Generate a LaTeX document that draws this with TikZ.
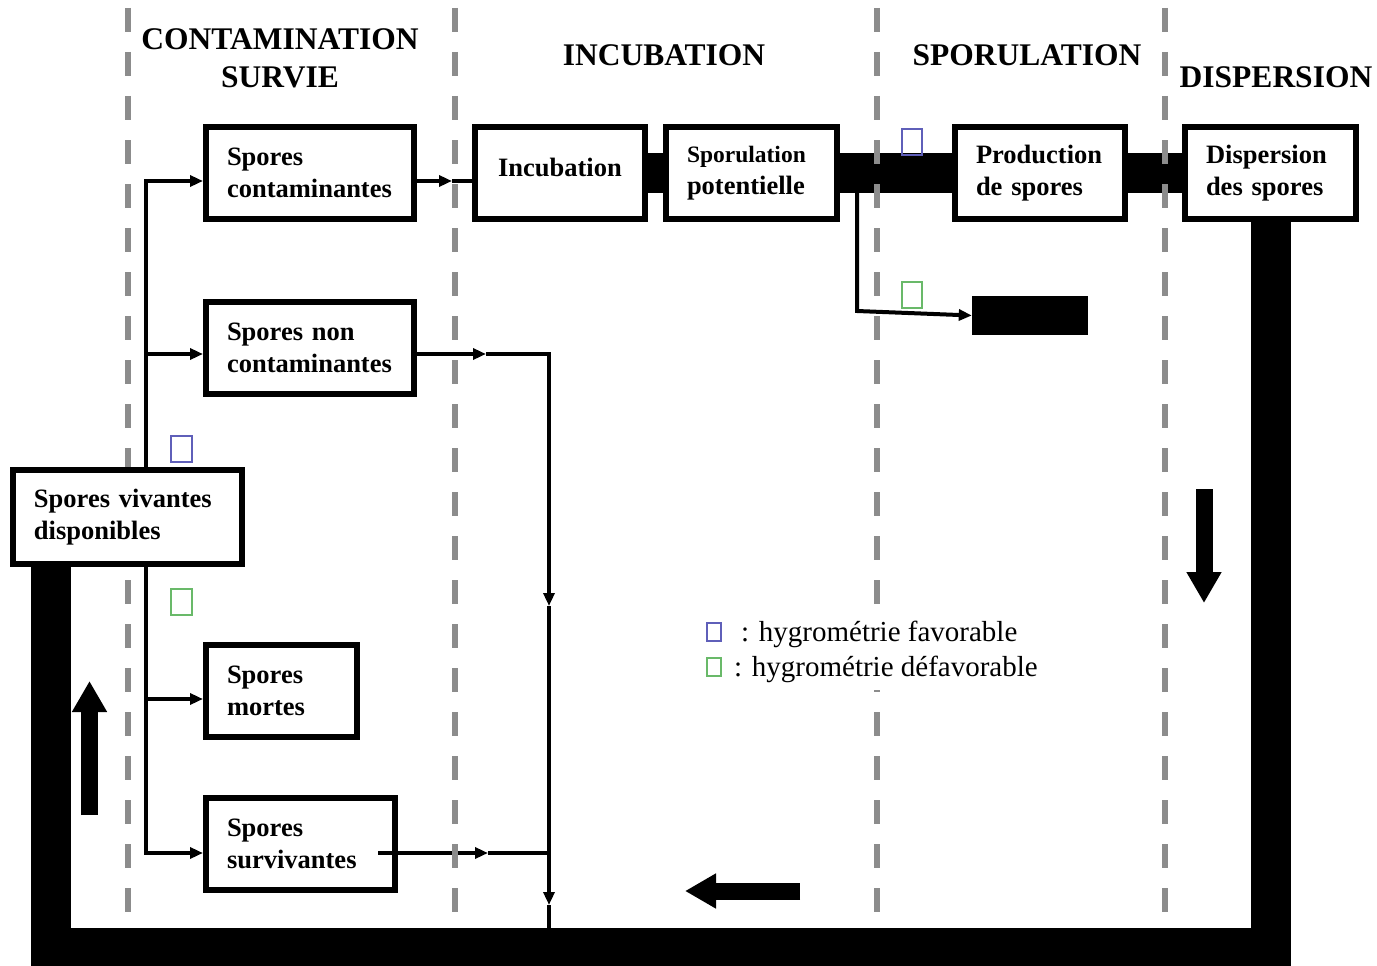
\documentclass[tikz,border=0pt]{standalone}
\usepackage{fontspec}
\setmainfont{Liberation Serif}
\usetikzlibrary{arrows.meta}

\definecolor{zonegray}{RGB}{140,140,140}
\definecolor{favblue}{RGB}{95,95,185}
\definecolor{defgreen}{RGB}{105,185,105}

\pgfdeclarelayer{links}
\pgfdeclarelayer{zones}
\pgfsetlayers{links,zones,main}

\tikzset{
  box/.style={draw, line width=6pt, font=\bfseries\fontsize{26.5}{32}\selectfont,
    align=left, inner xsep=21pt, inner ysep=0pt, minimum height=92pt},
  bar/.style={line width=40pt, line join=miter},
  link/.style={line width=4pt},
  tip/.style={-{Triangle[length=13pt,width=11pt]}},
  phase/.style={font=\bfseries\fontsize{31.5}{38}\selectfont, anchor=base},
  zone/.style={zonegray, line width=6pt, dash pattern=on 24pt off 20pt},
  bigarrow/.style={line width=17pt, -{Triangle[length=31pt,width=33pt]}},
  legend/.style={font=\fontsize{29}{35}\selectfont, anchor=base west, fill=white,
    inner xsep=0pt, inner ysep=8pt},
  favo/.style={draw=favblue, line width=1.5pt},
  defavo/.style={draw=defgreen, line width=1.5pt}
}

\begin{document}
\begin{tikzpicture}[x=1pt, y=-1pt]

        \useasboundingbox (0,0) rectangle (1377,966);

        % Phase headings
        \node[phase] (contam) at (280,50) {CONTAMINATION};
        \node[phase] (survie) at (280,88) {SURVIE};
        \node[phase] (incubh) at (664,66) {INCUBATION};
        \node[phase] (sporh) at (1027,66) {SPORULATION};
        \node[phase] (disph) at (1276,88) {DISPERSION};

        % Boxes
        \node[box, text width=166pt] (cont) at (310,173) {Spores\\contaminantes};
        \node[box, text width=166pt] (noncont) at (310,347.5) {Spores non\\contaminantes};
        \node[box, text width=187pt, minimum height=94pt, fill=white] (viv) at (127.5,517) {Spores vivantes\\disponibles};
        \node[box, text width=109pt] (mortes) at (281.5,690.5) {Spores\\mortes};
        \node[box, text width=147pt] (surv) at (300.5,843.5) {Spores\\survivantes};
        \node[box, text width=128pt, align=center, text depth=12pt] (incub) at (560,173) {Incubation};
        \node[box, text width=129pt] (sporpot) at (751.5,173)
            {{\fontsize{23.5}{32}\selectfont Sporulation}\\potentielle};
        \node[box, text width=128pt] (prod) at (1040,173) {Production\\de spores};
        \node[box, text width=129pt] (disp) at (1270.5,173) {Dispersion\\des spores};
        \node[fill=black, inner sep=0pt, minimum width=116pt, minimum height=39pt] (blk) at (1030,315.5) {};

        \begin{pgfonlayer}{links}
        % Thick links
        \draw[bar] (incub.east) -- (sporpot.west);
        \draw[bar] (sporpot.east) -- (prod.west);
        \draw[bar] (prod.east) -- (disp.west);

        % Return loop
        \coordinate (loopR) at (1270.5,948);
        \coordinate (loopL) at (51,948);
        \draw[bar] (disp.south) -- (loopR) -- (loopL) -- (loopL |- viv.south);

        % Left trunk
        \coordinate (b1) at (146,181);
        \coordinate (b2) at (146,354);
        \coordinate (b3) at (146,699);
        \coordinate (b4) at (146,853);
        \draw[link,tip] (viv.north -| b1) -- (b1) -- (b1 -| cont.west);
        \draw[link,tip] (b2) -- (b2 -| noncont.west);
        \draw[link,tip] (viv.south -| b4) -- (b4) -- (b4 -| surv.west);
        \draw[link,tip] (b3) -- (b3 -| mortes.west);

        % Contaminantes to incubation
        \coordinate (c1) at (452,181);
        \draw[link,tip] (c1 -| cont.east) -- (c1);
        \draw[link] (c1) -- (c1 -| incub.west);

        % Non contaminantes and survivantes back to the loop
        \coordinate (n1) at (486,354);
        \coordinate (n2) at (549,354);
        \coordinate (m1) at (549,606);
        \coordinate (merge) at (549,853);
        \coordinate (m2) at (549,905);
        \coordinate (s0) at (378,853);
        \coordinate (s1) at (488,853);
        \draw[link,tip] (n1 -| noncont.east) -- (n1);
        \draw[link,tip] (n1) -- (n2) -- (m1);
        \draw[link] (m1) -- (merge);
        \draw[link,tip] (merge) -- (m2);
        \draw[link] (m2) -- (m2 |- loopL);
        \draw[link,tip] (s0) -- (s1);
        \draw[link] (s1) -- (merge);

        % Sporulation potentielle to the black box
        \coordinate (p1) at (857,193);
        \coordinate (p2) at (857,311);
        \draw[link,tip] (p1) -- (p2) -- (blk.west);
        \end{pgfonlayer}

        % Flow arrows
        \coordinate (upA) at (89.5,815);
        \coordinate (upB) at (89.5,681);
        \coordinate (dnA) at (1204,489);
        \coordinate (dnB) at (1204,603);
        \coordinate (ltA) at (800,891);
        \coordinate (ltB) at (685,891);
        \draw[bigarrow] (upA) -- (upB);
        \draw[bigarrow] (dnA) -- (dnB);
        \draw[bigarrow] (ltA) -- (ltB);

        % Phase boundaries
        \begin{pgfonlayer}{zones}
        \foreach \x in {128,455,877,1165}
            \draw[zone] (\x,8) -- (\x,912);
        \end{pgfonlayer}

        % Legend
        \node[legend] (legfav) at (741,641) {: hygrométrie favorable};
        \node[legend] (legdef) at (734,676) {: hygrométrie défavorable};

        % Hygrometry marks
        \draw[favo] (902,129) rectangle (922,155);
        \draw[defavo] (902,282) rectangle (922,308);
        \draw[favo] (171,436) rectangle (192,462);
        \draw[defavo] (171,589) rectangle (192,615);
        \draw[favo] (707,623) rectangle (721,641);
        \draw[defavo] (707,658) rectangle (721,676);

    \end{tikzpicture}
\end{document}
